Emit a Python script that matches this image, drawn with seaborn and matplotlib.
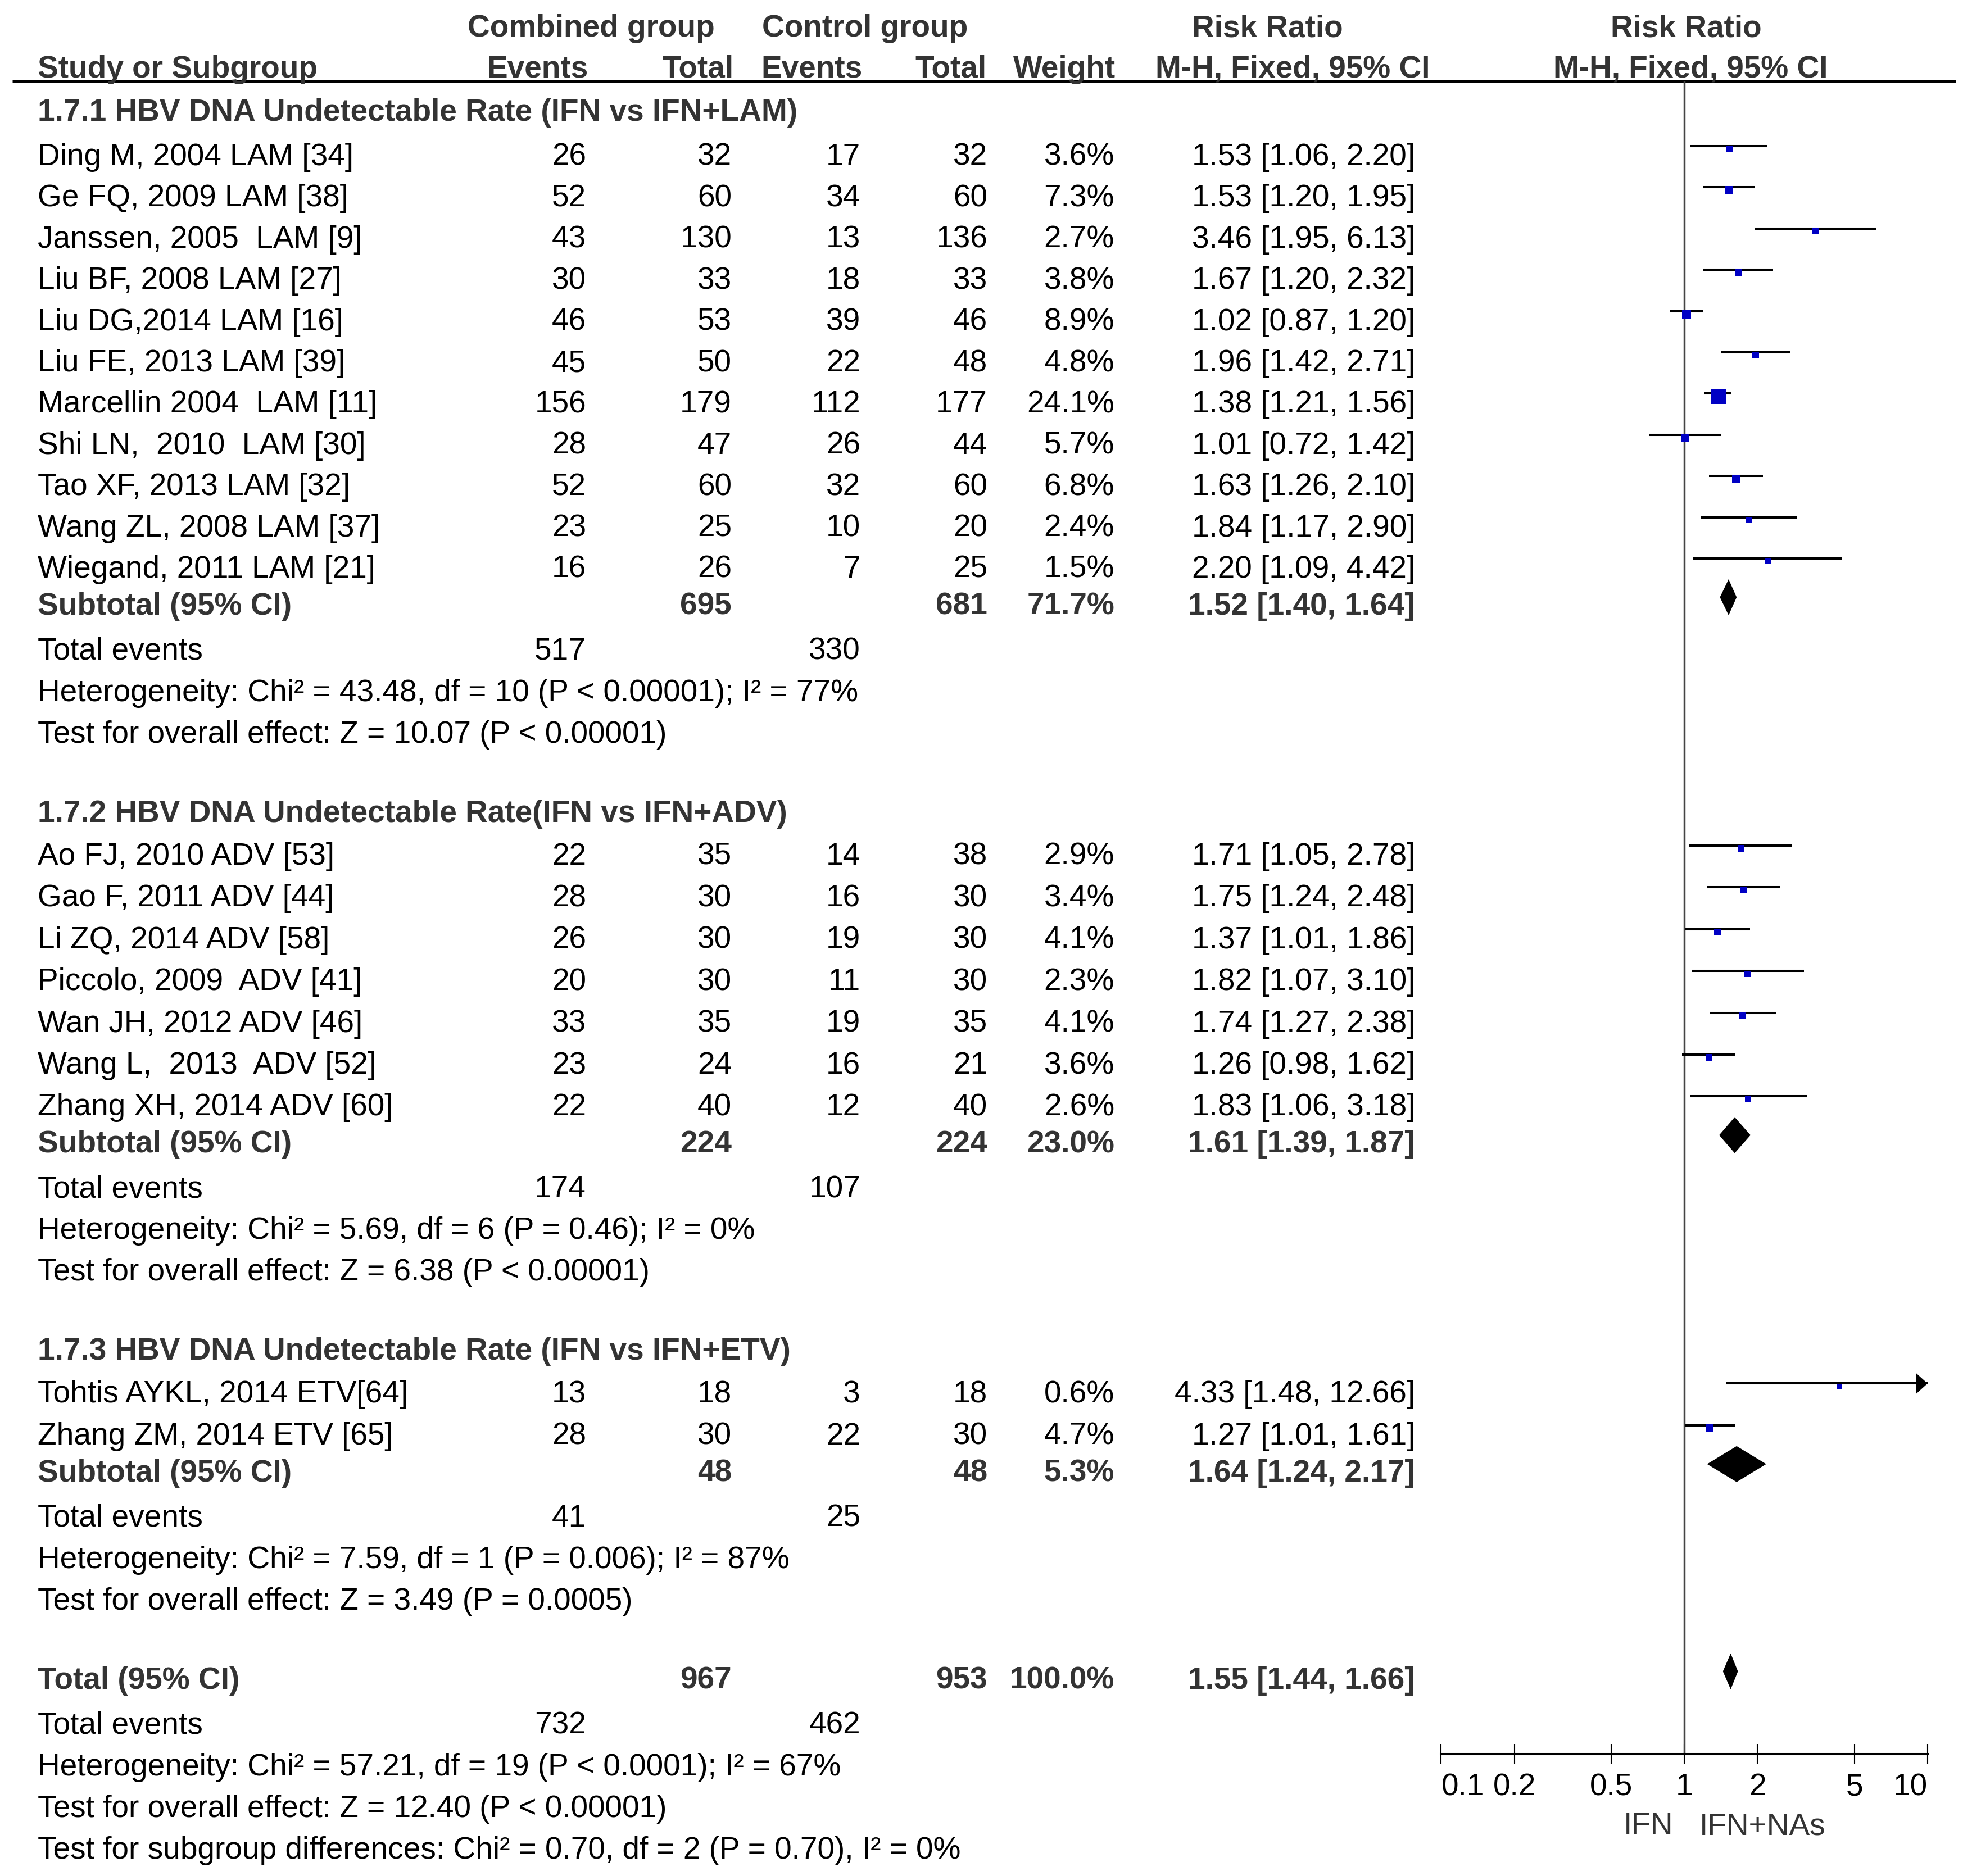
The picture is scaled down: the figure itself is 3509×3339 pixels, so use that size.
import numpy as np
import matplotlib
matplotlib.use("Agg")
import matplotlib.pyplot as plt
import seaborn as sns

# ---------------- data ----------------
group_titles = ["1.7.1 HBV DNA Undetectable Rate (IFN vs IFN+LAM)",
                "1.7.2 HBV DNA Undetectable Rate(IFN vs IFN+ADV)",
                "1.7.3 HBV DNA Undetectable Rate (IFN vs IFN+ETV)"]

studies_1 = ["Ding M, 2004 LAM [34]", "Ge FQ, 2009 LAM [38]", "Janssen, 2005  LAM [9]",
             "Liu BF, 2008 LAM [27]", "Liu DG,2014 LAM [16]", "Liu FE, 2013 LAM [39]",
             "Marcellin 2004  LAM [11]", "Shi LN,  2010  LAM [30]", "Tao XF, 2013 LAM [32]",
             "Wang ZL, 2008 LAM [37]", "Wiegand, 2011 LAM [21]"]
ev_comb_1 = [26, 52, 43, 30, 46, 45, 156, 28, 52, 23, 16]
tot_comb_1 = [32, 60, 130, 33, 53, 50, 179, 47, 60, 25, 26]
ev_ctrl_1 = [17, 34, 13, 18, 39, 22, 112, 26, 32, 10, 7]
tot_ctrl_1 = [32, 60, 136, 33, 46, 48, 177, 44, 60, 20, 25]
weight_1 = [3.6, 7.3, 2.7, 3.8, 8.9, 4.8, 24.1, 5.7, 6.8, 2.4, 1.5]
rr_1 = [1.53, 1.53, 3.46, 1.67, 1.02, 1.96, 1.38, 1.01, 1.63, 1.84, 2.20]
lo_1 = [1.06, 1.20, 1.95, 1.20, 0.87, 1.42, 1.21, 0.72, 1.26, 1.17, 1.09]
hi_1 = [2.20, 1.95, 6.13, 2.32, 1.20, 2.71, 1.56, 1.42, 2.10, 2.90, 4.42]

studies_2 = ["Ao FJ, 2010 ADV [53]", "Gao F, 2011 ADV [44]", "Li ZQ, 2014 ADV [58]",
             "Piccolo, 2009  ADV [41]", "Wan JH, 2012 ADV [46]", "Wang L,  2013  ADV [52]",
             "Zhang XH, 2014 ADV [60]"]
ev_comb_2 = [22, 28, 26, 20, 33, 23, 22]
tot_comb_2 = [35, 30, 30, 30, 35, 24, 40]
ev_ctrl_2 = [14, 16, 19, 11, 19, 16, 12]
tot_ctrl_2 = [38, 30, 30, 30, 35, 21, 40]
weight_2 = [2.9, 3.4, 4.1, 2.3, 4.1, 3.6, 2.6]
rr_2 = [1.71, 1.75, 1.37, 1.82, 1.74, 1.26, 1.83]
lo_2 = [1.05, 1.24, 1.01, 1.07, 1.27, 0.98, 1.06]
hi_2 = [2.78, 2.48, 1.86, 3.10, 2.38, 1.62, 3.18]

studies_3 = ["Tohtis AYKL, 2014 ETV[64]", "Zhang ZM, 2014 ETV [65]"]
ev_comb_3 = [13, 28]
tot_comb_3 = [18, 30]
ev_ctrl_3 = [3, 22]
tot_ctrl_3 = [18, 30]
weight_3 = [0.6, 4.7]
rr_3 = [4.33, 1.27]
lo_3 = [1.48, 1.01]
hi_3 = [12.66, 1.61]

sub_tot_comb = [695, 224, 48]
sub_tot_ctrl = [681, 224, 48]
sub_weight = [71.7, 23.0, 5.3]
sub_rr = [1.52, 1.61, 1.64]
sub_lo = [1.40, 1.39, 1.24]
sub_hi = [1.64, 1.87, 2.17]
sub_ev_comb = [517, 174, 41]
sub_ev_ctrl = [330, 107, 25]
sub_het = ["Heterogeneity: Chi\u00b2 = 43.48, df = 10 (P < 0.00001); I\u00b2 = 77%",
           "Heterogeneity: Chi\u00b2 = 5.69, df = 6 (P = 0.46); I\u00b2 = 0%",
           "Heterogeneity: Chi\u00b2 = 7.59, df = 1 (P = 0.006); I\u00b2 = 87%"]
sub_test = ["Test for overall effect: Z = 10.07 (P < 0.00001)",
            "Test for overall effect: Z = 6.38 (P < 0.00001)",
            "Test for overall effect: Z = 3.49 (P = 0.0005)"]

total_comb, total_ctrl, total_weight = 967, 953, 100.0
total_rr, total_lo, total_hi = 1.55, 1.44, 1.66
total_ev_comb, total_ev_ctrl = 732, 462
total_het = "Heterogeneity: Chi\u00b2 = 57.21, df = 19 (P < 0.0001); I\u00b2 = 67%"
total_test = "Test for overall effect: Z = 12.40 (P < 0.00001)"
total_subgroup = "Test for subgroup differences: Chi\u00b2 = 0.70, df = 2 (P = 0.70), I\u00b2 = 0%"

tick_values = [0.1, 0.2, 0.5, 1, 2, 5, 10]
tick_labels = ["0.1", "0.2", "0.5", "1", "2", "5", "10"]
favours_left, favours_right = "IFN", "IFN+NAs"

groups = [
    (studies_1, ev_comb_1, tot_comb_1, ev_ctrl_1, tot_ctrl_1, weight_1, rr_1, lo_1, hi_1),
    (studies_2, ev_comb_2, tot_comb_2, ev_ctrl_2, tot_ctrl_2, weight_2, rr_2, lo_2, hi_2),
    (studies_3, ev_comb_3, tot_comb_3, ev_ctrl_3, tot_ctrl_3, weight_3, rr_3, lo_3, hi_3),
]

# ---------------- style ----------------
sns.set_style("white")
plt.rcParams["font.family"] = ["Liberation Sans", "DejaVu Sans"]

W, H, DPI = 3509, 3339, 100
FS = 39.6
BOLD_C = "#333333"
fig = plt.figure(figsize=(W / DPI, H / DPI), dpi=DPI)
fig.patch.set_facecolor("white")

ax_t = fig.add_axes([0, 0, 1, 1])
ax_t.set_xlim(0, W)
ax_t.set_ylim(H, 0)
ax_t.axis("off")

# column anchors (pixels)
X_STUDY = 67
X_EVC, X_TOTC, X_EVK, X_TOTK, X_W, X_RR = 1043, 1302, 1531, 1757, 1983, 2518


def txt(x, y, s, ha="left", bold=False, color=None, fs=FS):
    ax_t.text(x, y, s, ha=ha, va="baseline", fontsize=fs,
              fontweight="bold" if bold else "normal",
              color=color if color else (BOLD_C if bold else "black"))


# headers
txt(1052, 65, "Combined group", ha="center", bold=True)
txt(1539, 65, "Control group", ha="center", bold=True)
txt(2255, 65, "Risk Ratio", ha="center", bold=True)
txt(3000, 65, "Risk Ratio", ha="center", bold=True)
txt(X_STUDY, 138, "Study or Subgroup", bold=True)
txt(1047, 138, "Events", ha="right", bold=True)
txt(1305, 138, "Total", ha="right", bold=True)
txt(1535, 138, "Events", ha="right", bold=True)
txt(1755, 138, "Total", ha="right", bold=True)
txt(1985, 138, "Weight", ha="right", bold=True)
txt(2300, 138, "M-H, Fixed, 95% CI", ha="center", bold=True)
txt(3008, 138, "M-H, Fixed, 95% CI", ha="center", bold=True)
ax_t.hlines(144, 22, 3480, color="black", lw=3.6)

# forest axes
X0, X1 = 2564.4, 3430.0
Y_TOP, Y_BOT = 145, 3122
fx = fig.add_axes([X0 / W, 1 - Y_BOT / H, (X1 - X0) / W, (Y_BOT - Y_TOP) / H])
fx.set_xscale("log")
fx.set_xlim(0.1, 10)
fx.set_ylim(Y_BOT, Y_TOP)
fx.patch.set_alpha(0)
for side in ["top", "left", "right"]:
    fx.spines[side].set_visible(False)
fx.spines["bottom"].set_linewidth(2.9)
fx.spines["bottom"].set_color("black")
fx.set_yticks([])
fx.axvline(1, color="#444444", lw=2.5, zorder=1)

LINE_OFF, SQ_OFF, DIA_OFF, DIA_H = 34, 29, 31, 32

# per-group layout: header-to-first-study gap and row pitch
group_pitch = [73.4, 74.4, 74.4]
group_head_gap = [79, 76, 76]

sq_x, sq_y, sq_s = [], [], []


def diamond(c, lo, hi, yb):
    yc = yb - DIA_OFF
    fx.fill([lo, c, hi, c], [yc, yc - DIA_H, yc, yc + DIA_H], color="black",
            lw=0, clip_on=False, zorder=3)


y = 215
for gi, g in enumerate(groups):
    names, evc, totc, evk, totk, wts, rrs, los, his = g
    pitch = group_pitch[gi]
    txt(X_STUDY, y, group_titles[gi], bold=True)
    y += group_head_gap[gi]
    for i in range(len(names)):
        txt(X_STUDY, y, names[i])
        txt(X_EVC, y, str(evc[i]), ha="right")
        txt(X_TOTC, y, str(totc[i]), ha="right")
        txt(X_EVK, y, str(evk[i]), ha="right")
        txt(X_TOTK, y, str(totk[i]), ha="right")
        txt(X_W, y, f"{wts[i]:.1f}%", ha="right")
        txt(X_RR, y, f"{rrs[i]:.2f} [{los[i]:.2f}, {his[i]:.2f}]", ha="right")
        yl = y - LINE_OFF
        fx.hlines(yl, los[i], min(his[i], 10), color="black", lw=2.9,
                  clip_on=False, zorder=2)
        if his[i] > 10:
            hl = 10 ** (-20 / 432.8)
            fx.fill([10, 10 * hl, 10 * hl], [yl, yl - 18, yl + 18], color="black",
                    lw=0, clip_on=False, zorder=2)
        sq_x.append(rrs[i])
        sq_y.append(y - SQ_OFF)
        side_pt = (9.3 + 0.735 * wts[i]) * 72 / DPI
        sq_s.append(side_pt ** 2)
        y += pitch
    y = y - pitch + 66
    txt(X_STUDY, y, "Subtotal (95% CI)", bold=True)
    txt(X_TOTC, y, str(sub_tot_comb[gi]), ha="right", bold=True)
    txt(X_TOTK, y, str(sub_tot_ctrl[gi]), ha="right", bold=True)
    txt(X_W, y, f"{sub_weight[gi]:.1f}%", ha="right", bold=True)
    txt(X_RR, y, f"{sub_rr[gi]:.2f} [{sub_lo[gi]:.2f}, {sub_hi[gi]:.2f}]", ha="right", bold=True)
    diamond(sub_rr[gi], sub_lo[gi], sub_hi[gi], y)
    y += 80
    txt(X_STUDY, y, "Total events")
    txt(X_EVC, y, str(sub_ev_comb[gi]), ha="right")
    txt(X_EVK, y, str(sub_ev_ctrl[gi]), ha="right")
    y += 74
    txt(X_STUDY, y, sub_het[gi])
    y += 74
    txt(X_STUDY, y, sub_test[gi])
    y += 141

# overall
txt(X_STUDY, y, "Total (95% CI)", bold=True)
txt(X_TOTC, y, str(total_comb), ha="right", bold=True)
txt(X_TOTK, y, str(total_ctrl), ha="right", bold=True)
txt(X_W, y, f"{total_weight:.1f}%", ha="right", bold=True)
txt(X_RR, y, f"{total_rr:.2f} [{total_lo:.2f}, {total_hi:.2f}]", ha="right", bold=True)
diamond(total_rr, total_lo, total_hi, y)
y += 80
txt(X_STUDY, y, "Total events")
txt(X_EVC, y, str(total_ev_comb), ha="right")
txt(X_EVK, y, str(total_ev_ctrl), ha="right")
y += 74
txt(X_STUDY, y, total_het)
y += 74
txt(X_STUDY, y, total_test)
y += 74
txt(X_STUDY, y, total_subgroup)

sns.scatterplot(x=sq_x, y=sq_y, s=sq_s, marker="s", color="#0000C4", linewidth=0,
                ax=fx, legend=False, clip_on=False, zorder=4)
fx.set_xlim(0.1, 10)
fx.set_ylim(Y_BOT, Y_TOP)
fx.set_xlabel("")
fx.set_ylabel("")

fx.xaxis.set_major_locator(matplotlib.ticker.FixedLocator(tick_values))
fx.xaxis.set_minor_locator(matplotlib.ticker.NullLocator())
fx.set_xticklabels(tick_labels)
fx.tick_params(axis="x", direction="inout", length=26, width=1.5, pad=11,
               labelsize=FS, colors="black", bottom=True)
xt_labels = fx.get_xticklabels()
xt_labels[0].set_horizontalalignment("left")
xt_labels[-1].set_horizontalalignment("right")

txt(2977, 3265, favours_left, ha="right", color="#333333")
txt(3024, 3265, favours_right, ha="left", color="#333333")

fig.savefig("out.png", dpi=DPI, facecolor="white")
